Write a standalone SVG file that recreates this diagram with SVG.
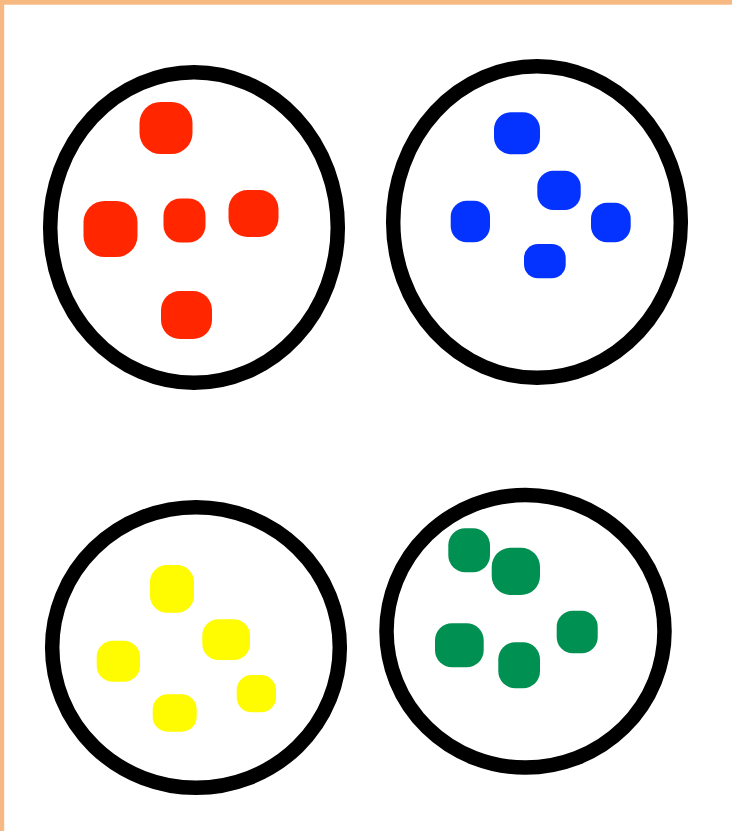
<svg xmlns="http://www.w3.org/2000/svg" width="732" height="831" viewBox="0 0 732 831">
<style>
.ring{fill:none;stroke:#000;stroke-width:14.5}
.r{fill:#FF2600}.b{fill:#0433FF}.y{fill:#FFFB00}.g{fill:#009051}
</style>
<rect x="0" y="0" width="732" height="831" fill="#fff"/>
<rect x="0" y="0" width="732" height="4.7" fill="#F7B982"/>
<rect x="0" y="0" width="4.2" height="831" fill="#F7B982"/>
<g id="red-group">
<ellipse class="ring" cx="194" cy="227.5" rx="143.8" ry="155.3"/>
<rect class="r" x="139.5" y="102" width="53" height="52" rx="21"/>
<rect class="r" x="83.5" y="201" width="54" height="56" rx="21"/>
<rect class="r" x="163.5" y="198.5" width="42" height="44" rx="17"/>
<rect class="r" x="228.5" y="190" width="50" height="47" rx="19"/>
<rect class="r" x="161" y="291" width="51" height="48" rx="19"/>
</g>
<g id="blue-group">
<ellipse class="ring" cx="537" cy="222" rx="143.8" ry="155.8"/>
<rect class="b" x="494" y="112.3" width="46" height="42" rx="17"/>
<rect class="b" x="537.3" y="170.7" width="43.4" height="39.3" rx="16"/>
<rect class="b" x="450.7" y="200.7" width="39.3" height="41.6" rx="16"/>
<rect class="b" x="591" y="202.7" width="39.7" height="39.6" rx="16"/>
<rect class="b" x="524" y="244" width="41.7" height="34.3" rx="14"/>
</g>
<g id="yellow-group">
<ellipse class="ring" cx="196" cy="647.5" rx="143.8" ry="140.3"/>
<rect class="y" x="150" y="565" width="44" height="47.7" rx="17"/>
<rect class="y" x="202.3" y="619.3" width="47.7" height="40.7" rx="16"/>
<rect class="y" x="96.7" y="640.7" width="43.3" height="41" rx="16"/>
<rect class="y" x="236.7" y="675" width="39.3" height="37.3" rx="15"/>
<rect class="y" x="152.7" y="694.3" width="44" height="37.4" rx="15"/>
</g>
<g id="green-group">
<ellipse class="ring" cx="525.5" cy="631.3" rx="139" ry="136.3"/>
<rect class="g" x="448.3" y="528.3" width="41.7" height="44" rx="17"/>
<rect class="g" x="491.7" y="547.7" width="48.3" height="47.3" rx="19"/>
<rect class="g" x="556.7" y="610.7" width="41" height="42.6" rx="16"/>
<rect class="g" x="435" y="623.3" width="48.7" height="44" rx="17"/>
<rect class="g" x="498.3" y="642.3" width="41.7" height="46" rx="17"/>
</g>
<g id="connectors"/>
</svg>
